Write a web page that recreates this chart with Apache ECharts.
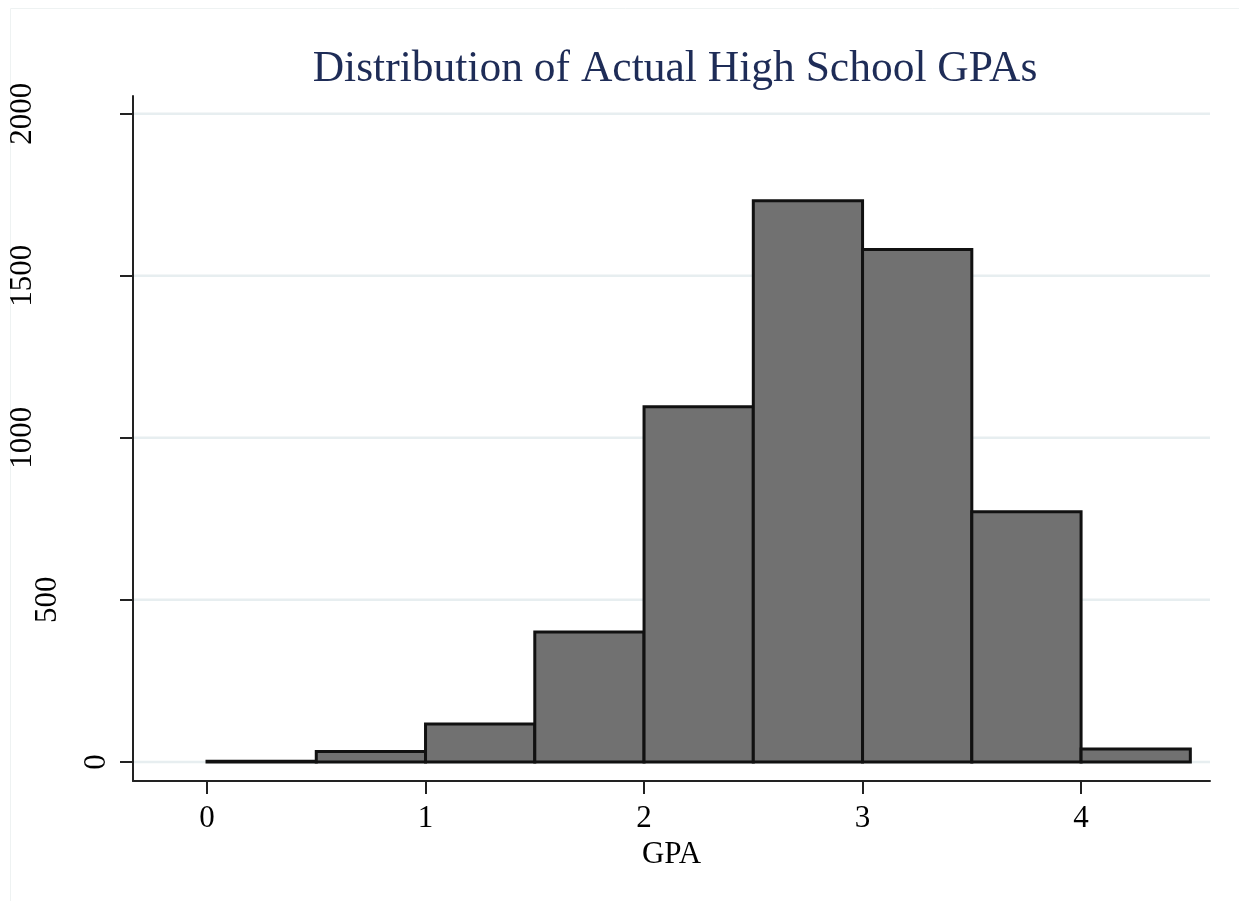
<!DOCTYPE html>
<html>
<head>
<meta charset="utf-8">
<script src="https://cdn.jsdelivr.net/npm/echarts@6/dist/echarts.min.js"></script>
<style>
html,body{margin:0;padding:0;background:#fff;}
#chart{width:1239px;height:901px;}
</style>
</head>
<body>
<div id="chart"></div>
<script>
// Data
const binStarts = [0, 0.5, 1, 1.5, 2, 2.5, 3, 3.5, 4];
const binWidth = 0.5;
const counts = [2, 32, 117, 401, 1096, 1732, 1581, 772, 40];
const xTickValues = [0, 1, 2, 3, 4];
const yTickValues = [0, 500, 1000, 1500, 2000];
const titleText = 'Distribution of Actual High School GPAs';
const xAxisName = 'GPA';

const X_MIN = -0.3387, X_MAX = 4.590;
const Y_MIN = -59, Y_MAX = 2055;
const FONT = '"Liberation Serif", "DejaVu Serif", serif';

const chart = echarts.init(document.getElementById('chart'), null, {renderer: 'canvas'});

const option = {
  backgroundColor: '#ffffff',
  animation: false,
  title: {
    text: titleText,
    left: 675,
    textAlign: 'center',
    top: 43,
    textStyle: {fontFamily: FONT, fontWeight: 'normal', fontSize: 43.5, color: '#1e2c57'}
  },
  graphic: [{
    type: 'rect', silent: true, z: 0,
    shape: {x: 10.5, y: 8.5, width: 1240, height: 900},
    style: {fill: null, stroke: '#eef2f2', lineWidth: 1}
  }],
  grid: {left: 133, right: 29, top: 96, bottom: 120, containLabel: false},
  xAxis: {
    type: 'value', min: X_MIN, max: X_MAX,
    name: xAxisName, nameLocation: 'middle', nameGap: 54,
    nameTextStyle: {fontFamily: FONT, fontSize: 31, color: '#000'},
    axisLine: {show: true, onZero: false, lineStyle: {color: '#222', width: 2}},
    axisTick: {show: true, customValues: xTickValues, length: 13, inside: false, lineStyle: {color: '#222', width: 2}},
    axisLabel: {show: true, customValues: xTickValues, margin: 22, fontFamily: FONT, fontSize: 31, color: '#000'},
    splitLine: {show: false}
  },
  yAxis: {
    type: 'value', min: Y_MIN, max: Y_MAX,
    axisLine: {show: true, onZero: false, lineStyle: {color: '#222', width: 2}},
    axisTick: {show: true, customValues: yTickValues, length: 13, inside: false, lineStyle: {color: '#222', width: 2}},
    axisLabel: {show: false},
    splitLine: {show: false}
  },
  series: [
    {
      // gridlines
      type: 'custom', z: 1, silent: true,
      data: yTickValues.map(v => [v]),
      encode: {y: 0},
      renderItem: function (params, api) {
        const v = api.value(0);
        const p1 = api.coord([X_MIN, v]);
        const p2 = api.coord([X_MAX, v]);
        return {type: 'line', shape: {x1: p1[0] + 1, y1: p1[1], x2: p2[0], y2: p2[1]},
          style: {stroke: '#e7eef0', lineWidth: 2.5}};
      }
    },
    {
      // y tick labels (rotated)
      type: 'custom', z: 3, silent: true,
      data: yTickValues.map(v => [v]),
      encode: {y: 0},
      renderItem: function (params, api) {
        const v = api.value(0);
        const p = api.coord([X_MIN, v]);
        const label = String(v);
        const cx = p[0] - 11.25 - 24.75 * label.length;
        return {type: 'text', x: cx, y: p[1], rotation: Math.PI / 2,
          style: {text: label, fontFamily: FONT, fontSize: 31, fill: '#000', align: 'center', verticalAlign: 'middle'}};
      }
    },
    {
      // histogram bars
      type: 'custom', z: 2,
      data: binStarts.map((s, i) => [s, counts[i]]),
      encode: {x: 0, y: 1},
      renderItem: function (params, api) {
        const s = api.value(0);
        const c = api.value(1);
        const tl = api.coord([s, c]);
        const br = api.coord([s + binWidth, 0]);
        return {type: 'rect',
          shape: {x: tl[0], y: tl[1], width: br[0] - tl[0], height: br[1] - tl[1]},
          style: {fill: '#717171', stroke: '#111111', lineWidth: 3}};
      }
    }
  ]
};
option.title.left = 670;
chart.setOption(option);
</script>
</body>
</html>
